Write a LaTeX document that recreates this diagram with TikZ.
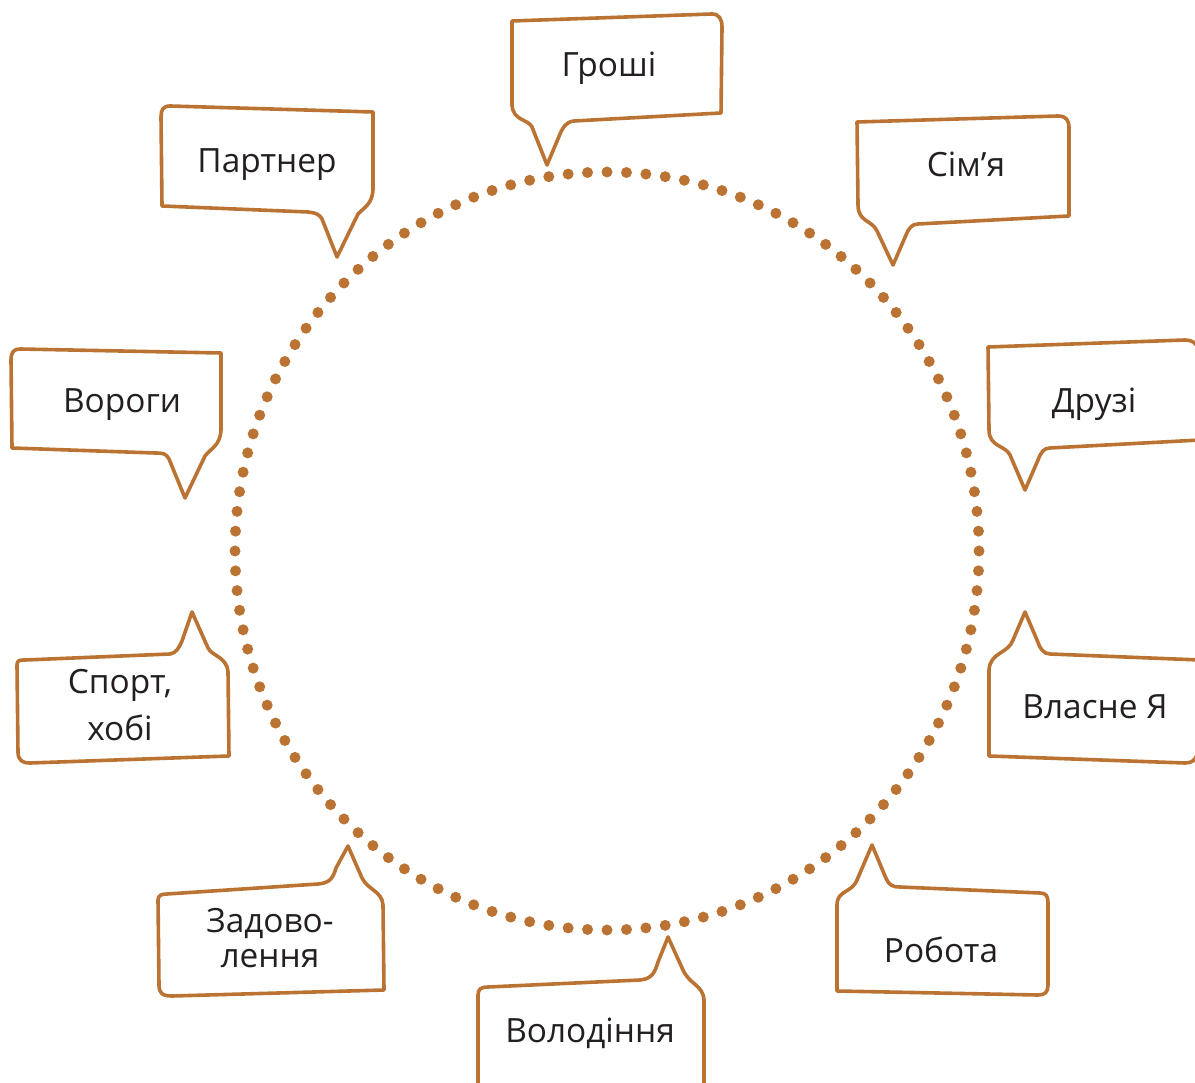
\documentclass[tikz,border=0pt]{standalone}
\usepackage{fontspec}
\setmainfont{Open Sans}
\definecolor{cedar}{RGB}{186,115,51}
\definecolor{ink}{RGB}{35,31,32}
\begin{document}
\begin{tikzpicture}[x=0.01cm,y=-0.01cm,line join=round,line cap=round,font=\fontsize{9.5}{11}\selectfont]
	\tikzset{bubble/.style={draw=cedar,line width=0.036cm},
		lbl/.style={text=ink,inner sep=0pt,anchor=base}}
	\def \cx{607} \def \cy{551}
	\def \rx{372} \def \ry{379}
	\useasboundingbox (0,0) rectangle (1195,1083);
	\clip (0,0) rectangle (1195,1083);
	% dotted ring
	\foreach \a in {0,3,...,357}
		\fill[cedar] (\cx,\cy) ++(\a:{\rx} and {\ry}) circle (5.5);
	% bubbles
	\draw[bubble] (512,21) -- (712,14) .. controls (719,14) and (722,19) .. (722,27) -- (721,113) -- (574,121) .. controls (566,122) and (563,127) .. (560,134) -- (547,165) -- (532,127) .. controls (528,119) and (513,121) .. (512,105) -- cycle;
	\draw[bubble] (170,106) -- (373,112) -- (373,188) .. controls (373,203) and (365,207) .. (358,214) -- (337,257) -- (322,219) .. controls (318,213) and (315,213) .. (308,212) -- (162,206) -- (161,117) .. controls (161,110) and (163,106) .. (170,106) -- cycle;
	\draw[bubble] (20,349) -- (221,353) -- (221,430) .. controls (220,446) and (211,448) .. (205,456) -- (185,498) -- (169,459) .. controls (166,453) and (162,453) .. (155,453) -- (12,448) -- (11,360) .. controls (11,352) and (14,349) .. (20,349) -- cycle;
	\draw[bubble] (17,665) .. controls (17,660) and (20,660) .. (25,660) -- (170,654) .. controls (176,653) and (179,648) .. (182,641) -- (192,612) -- (208,648) .. controls (212,656) and (227,657) .. (228,672) -- (229,756) -- (30,763) .. controls (22,763) and (18,760) .. (18,752) -- cycle;
	\draw[bubble] (158,900) .. controls (158,895) and (162,894) .. (167,894) -- (318,884) .. controls (330,883) and (333,878) .. (336,868) -- (348,846) -- (362,878) .. controls (368,890) and (382,891) .. (383,905) -- (384,990) -- (172,996) .. controls (162,996) and (159,993) .. (159,985) -- cycle;
	\draw[bubble] (478,1100) -- (478,995) .. controls (478,989) and (481,987) .. (488,987) -- (640,980) .. controls (652,979) and (655,972) .. (658,962) -- (668,937) -- (683,970) .. controls (690,985) and (703,985) .. (704,1000) -- (704,1100);
	\draw[bubble] (872,845) -- (885,876) .. controls (889,886) and (893,887) .. (900,887) -- (1040,893) .. controls (1046,893) and (1048,896) .. (1048,903) -- (1048,985) .. controls (1048,992) and (1045,995) .. (1038,995) -- (837,991) -- (837,905) .. controls (837,890) and (852,893) .. (857,880) -- cycle;
	\draw[bubble] (1200,660) -- (1050,654) .. controls (1043,654) and (1040,648) .. (1037,640) -- (1025,612) -- (1013,640) .. controls (1008,654) and (990,652) .. (989,670) -- (989,756) -- (1185,763) .. controls (1192,763) and (1195,760) .. (1197,755);
	\draw[bubble] (1200,440) -- (1050,448) .. controls (1044,448) and (1041,452) .. (1038,460) -- (1025,490) -- (1010,455) .. controls (1005,445) and (989,447) .. (989,430) -- (988,347) -- (1185,340) .. controls (1192,340) and (1196,343) .. (1198,348);
	\draw[bubble] (857,122) -- (1058,116) .. controls (1066,116) and (1069,120) .. (1069,128) -- (1069,216) -- (918,224) .. controls (912,224) and (909,228) .. (906,235) -- (893,265) -- (877,231) .. controls (872,220) and (858,222) .. (858,205) -- cycle;
	% labels
	\node[lbl] (groshi) at (609,77) {Гроші};
	\node[lbl] (partner) at (267,173) {Партнер};
	\node[lbl] (vorogy) at (122,413) {Вороги};
	\node[lbl,anchor=center,align=center,font=\fontsize{9.5}{13.4}\selectfont] (sport) at (120,705) {Спорт,\\хобі};
	\node[lbl,anchor=center,align=center,font=\fontsize{9.5}{10}\selectfont] (zadov) at (270,938) {Задово-\\лення};
	\node[lbl] (volod) at (590,1042) {Володіння};
	\node[lbl] (robota) at (941,962) {Робота};
	\node[lbl] (vlasne) at (1095,718) {Власне Я};
	\node[lbl] (druzi) at (1094,413) {Друзі};
	\node[lbl] (simja) at (966,177) {Сім’я};
\end{tikzpicture}
\end{document}
